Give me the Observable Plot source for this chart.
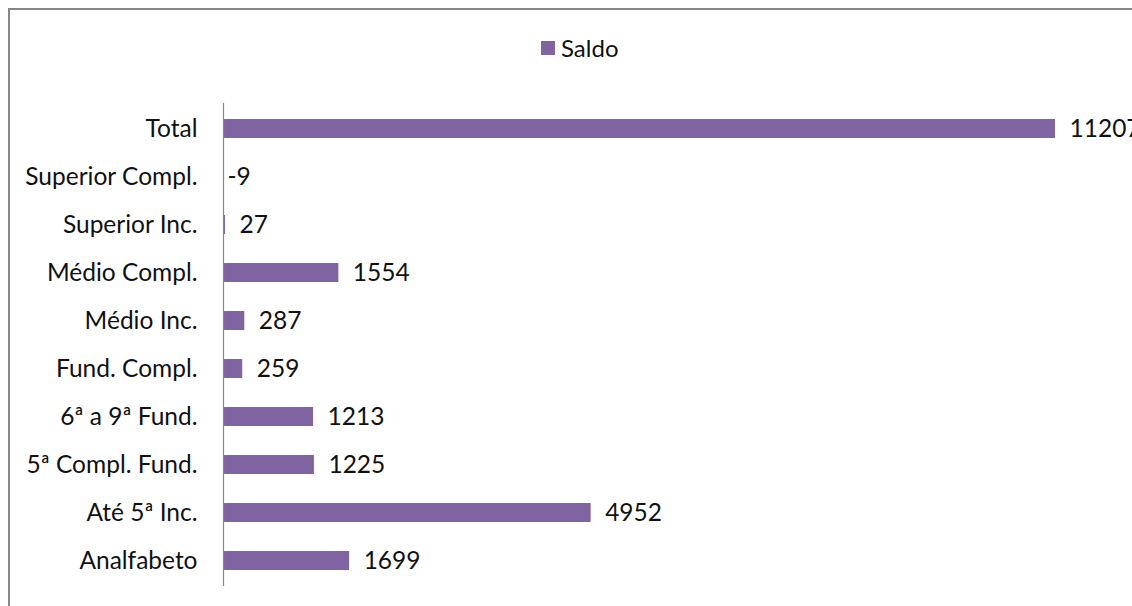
<!DOCTYPE html>
<html>
<head>
<meta charset="utf-8">
<script src="https://cdn.jsdelivr.net/npm/d3@7"></script>
<script src="https://cdn.jsdelivr.net/npm/@observablehq/plot@0.6"></script>
<style>
  html, body { margin: 0; padding: 0; background: #fff; overflow: hidden; }
  #frame { position: absolute; left: 8px; top: 8px; width: 1200px; height: 700px; border: 2px solid #878787; box-sizing: border-box; }
  #legend { position: absolute; left: 541px; top: 33px; font-family: Lato, sans-serif; font-size: 24px; color: #111; display: flex; align-items: center; }
  #legend .sw { width: 14px; height: 14px; background: #8064A2; margin-right: 6px; }
  #chart { position: absolute; left: 0; top: 0; }
</style>
</head>
<body>
<div id="frame"></div>
<div id="chart"></div>
<div id="legend"><span class="sw"></span><span>Saldo</span></div>
<script>
const categories = ["Total", "Superior Compl.", "Superior Inc.", "Médio Compl.", "Médio Inc.", "Fund. Compl.", "6ª a 9ª Fund.", "5ª Compl. Fund.", "Até 5ª Inc.", "Analfabeto"];
const saldo = [11207, -9, 27, 1554, 287, 259, 1213, 1225, 4952, 1699];
const seriesName = "Saldo";

const data = categories.map((c, i) => ({category: c, value: saldo[i]}));
const FONT = "Lato, sans-serif";
const FS = 24.5;

const chart = Plot.plot({
  width: 1132,
  height: 606,
  marginTop: 103,
  marginBottom: 20,
  marginLeft: 223,
  marginRight: 77,
  style: {fontFamily: FONT, fontSize: FS + "px", color: "#111", background: "transparent", overflow: "visible"},
  x: {domain: [0, 11207], clamp: true, axis: null},
  y: {domain: categories, paddingInner: 0.6, paddingOuter: 0.3, label: null},
  marks: [
    Plot.barX(data, {x: "value", y: "category", fill: "#8064A2"}),
    Plot.ruleX([0], {stroke: "#888", strokeWidth: 1.2}),
    Plot.axisY({tickSize: 0, tickPadding: 26, fontSize: FS, fill: "#111"}),
    Plot.text(data.filter(d => d.value >= 0), {x: "value", y: "category", text: d => String(d.value), textAnchor: "start", dx: 14, fontSize: FS, fill: "#111"}),
    Plot.text(data.filter(d => d.value < 0), {x: () => 0, y: "category", text: d => String(d.value), textAnchor: "start", dx: 4, fontSize: FS, fill: "#111"})
  ]
});
document.getElementById("chart").appendChild(chart);
</script>
</body>
</html>
